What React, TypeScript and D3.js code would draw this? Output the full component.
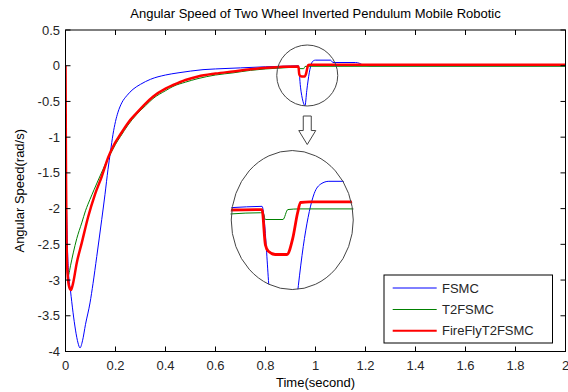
import React from "react";
import * as d3 from "d3";

// ---- data ----
const tFSMC = [0, 0.002, 0.006, 0.012, 0.02, 0.03, 0.04, 0.05, 0.058, 0.068, 0.08, 0.098, 0.11, 0.125, 0.145, 0.158, 0.17, 0.18, 0.19, 0.2, 0.21, 0.225, 0.245, 0.27, 0.3, 0.34, 0.4, 0.45, 0.5, 0.55, 0.6, 0.7, 0.8, 0.9, 0.9315, 0.94, 0.95, 0.958, 0.965, 0.975, 0.985, 0.992, 1.0, 1.06, 1.07, 1.16, 1.175, 1.19, 1.22, 2.0];
const vFSMC = [-0.75, -1.5, -2.3, -2.9, -3.15, -3.45, -3.7, -3.88, -3.95, -3.85, -3.62, -3.32, -3.05, -2.67, -2.15, -1.8, -1.45, -1.2, -0.96, -0.78, -0.65, -0.52, -0.42, -0.33, -0.26, -0.19, -0.13, -0.1, -0.075, -0.055, -0.045, -0.03, -0.015, -0.004, 0, -0.3, -0.5, -0.56, -0.35, -0.1, 0.04, 0.07, 0.078, 0.078, 0.045, 0.045, 0.035, 0.01, 0, 0];

const tT2FSMC = [0, 0.002, 0.005, 0.009, 0.013, 0.02, 0.031, 0.045, 0.065, 0.08, 0.098, 0.115, 0.131, 0.15, 0.17, 0.185, 0.2, 0.22, 0.25, 0.285, 0.32, 0.35, 0.4, 0.43, 0.48, 0.53, 0.6, 0.67, 0.74, 0.8, 0.87, 0.93, 0.9325, 0.935, 0.953, 0.958, 0.97, 2.0];
const vT2FSMC = [0, -1.8, -2.6, -2.95, -2.92, -2.8, -2.62, -2.42, -2.2, -2.03, -1.87, -1.73, -1.6, -1.45, -1.3, -1.2, -1.1, -0.99, -0.83, -0.68, -0.56, -0.46, -0.35, -0.29, -0.23, -0.18, -0.13, -0.1, -0.065, -0.045, -0.03, -0.02, -0.02, -0.041, -0.041, -0.01, -0.008, -0.007];

const tFireFly = [0, 0.002, 0.004, 0.008, 0.015, 0.022, 0.03, 0.045, 0.065, 0.091, 0.118, 0.145, 0.171, 0.195, 0.218, 0.25, 0.285, 0.32, 0.351, 0.4, 0.431, 0.48, 0.53, 0.6, 0.67, 0.74, 0.805, 0.87, 0.93, 0.9315, 0.935, 0.938, 0.945, 0.957, 0.963, 0.968, 0.971, 0.98, 2.0];
const vFireFly = [0, -1.5, -2.4, -2.9, -3.1, -3.14, -3.05, -2.76, -2.48, -2.11, -1.8, -1.55, -1.28, -1.1, -0.97, -0.8, -0.66, -0.53, -0.43, -0.32, -0.27, -0.2, -0.15, -0.11, -0.08, -0.05, -0.03, -0.015, -0.01, -0.01, -0.12, -0.14, -0.15, -0.15, -0.1, -0.02, 0.012, 0.014, 0.014];

const xTicks = [0, 0.2, 0.4, 0.6, 0.8, 1, 1.2, 1.4, 1.6, 1.8, 2];
const yTicks = [0.5, 0, -0.5, -1, -1.5, -2, -2.5, -3, -3.5, -4];
const seriesNames = ["FSMC", "T2FSMC", "FireFlyT2FSMC"];
const seriesColors = ["#0000ff", "#008000", "#ff0000"];
const seriesWidths = [1, 1, 2.5];

// annotation anchors (data coords)
const zoomCircleCenter = [0.967, -0.137];
const insetCenter = [0.907, -2.16];
const insetDomainX = [0.9, 1.025];
const insetDomainY = [-0.2, 0.1];

const W = 568, H = 392;
const M = { left: 65.5, right: 565.5, top: 30, bottom: 351.5 };
const FONT = "'Liberation Sans', Arial, sans-serif";

export default function App() {
  const x = d3.scaleLinear().domain([0, 2]).range([M.left, M.right]);
  const y = d3.scaleLinear().domain([-4, 0.5]).range([M.bottom, M.top]);

  const series = [
    { t: tFSMC, v: vFSMC },
    { t: tT2FSMC, v: vT2FSMC },
    { t: tFireFly, v: vFireFly },
  ];

  const mainLine = (t: number[], v: number[]) =>
    d3.line<number>().x((_, i) => x(t[i])).y((_, i) => y(v[i])).curve(d3.curveMonotoneX)(v) || "";

  const ccx = x(zoomCircleCenter[0]);
  const ccy = y(zoomCircleCenter[1]);
  const cr = 30.5;

  const ecx = x(insetCenter[0]);
  const ecy = y(insetCenter[1]);
  const erx = 61, ery = 69.5;

  const ix = d3.scaleLinear().domain(insetDomainX).range([ecx - erx, ecx + erx]);
  const iy = d3.scaleLinear().domain(insetDomainY).range([ecy + 50.5, ecy - 45.8]);
  const insetLine = (t: number[], v: number[]) =>
    d3.line<number>().x((_, i) => ix(t[i])).y((_, i) => iy(v[i])).curve(d3.curveMonotoneX)(v) || "";

  // arrow
  const ax = ccx;
  const aTop = ccy + cr + 10;
  const aTip = ecy - ery - 6;
  const aNeck = aTip - 14;
  const arrowPath = `M${ax - 4},${aTop} L${ax + 4},${aTop} L${ax + 4},${aNeck} L${ax + 8.5},${aNeck} L${ax},${aTip} L${ax - 8.5},${aNeck} L${ax - 4},${aNeck} Z`;

  const tickLen = 5;
  const txtColor = "#262626";

  const legX = 384, legY = 275, legW = 168.5, legH = 68;
  const rowYs = [288, 309.5, 330.7];

  return (
    <svg width={W} height={H} style={{ position: "absolute", left: 0, top: 0, background: "#fff" }} fontFamily={FONT}>
      <rect x={0} y={0} width={W} height={H} fill="#fff" />
      <defs>
        <clipPath id="plotClip">
          <rect x={M.left} y={M.top} width={M.right - M.left} height={M.bottom - M.top} />
        </clipPath>
        <clipPath id="insetClip">
          <ellipse cx={ecx} cy={ecy} rx={erx + 1} ry={ery} />
        </clipPath>
      </defs>

      {/* title */}
      <text x={(M.left + M.right) / 2} y={18} textAnchor="middle" fontSize={13} fill="#000">
        Angular Speed of Two Wheel Inverted Pendulum Mobile Robotic
      </text>

      {/* main lines */}
      <g clipPath="url(#plotClip)">
        {series.map((s, i) => (
          <path key={i} d={mainLine(s.t, s.v)} fill="none" stroke={seriesColors[i]} strokeWidth={seriesWidths[i]} strokeLinejoin="round" />
        ))}
      </g>

      {/* axes box */}
      <rect x={M.left} y={M.top} width={M.right - M.left} height={M.bottom - M.top} fill="none" stroke="#000" strokeWidth={1} />
      {xTicks.map((t, i) => (
        <g key={"xt" + i}>
          <line x1={x(t)} x2={x(t)} y1={M.bottom} y2={M.bottom - tickLen} stroke="#000" />
          <line x1={x(t)} x2={x(t)} y1={M.top} y2={M.top + tickLen} stroke="#000" />
          <text x={x(t)} y={370} textAnchor="middle" fontSize={13} fill={txtColor}>{String(t)}</text>
        </g>
      ))}
      {yTicks.map((v, i) => (
        <g key={"yt" + i}>
          <line x1={M.left} x2={M.left + tickLen} y1={y(v)} y2={y(v)} stroke="#000" />
          <line x1={M.right} x2={M.right - tickLen} y1={y(v)} y2={y(v)} stroke="#000" />
          <text x={60} y={y(v) + 4.5} textAnchor="end" fontSize={13} fill={txtColor}>{String(v)}</text>
        </g>
      ))}

      {/* axis labels */}
      <text x={(M.left + M.right) / 2} y={387} textAnchor="middle" fontSize={13} fill="#000">Time(second)</text>
      <text transform={`translate(24,${(M.top + M.bottom) / 2}) rotate(-90)`} textAnchor="middle" fontSize={13} fill="#000">
        Angular Speed(rad/s)
      </text>

      {/* zoom annotation */}
      <circle cx={ccx} cy={ccy} r={cr} fill="none" stroke="#444" strokeWidth={1} />
      <path d={arrowPath} fill="#fff" stroke="#444" strokeWidth={1} />
      <g clipPath="url(#insetClip)">
        {series.map((s, i) => (
          <path key={"in" + i} d={insetLine(s.t, s.v)} fill="none" stroke={seriesColors[i]} strokeWidth={seriesWidths[i] === 1 ? 1 : 2.8} strokeLinejoin="round" />
        ))}
      </g>
      <ellipse cx={ecx} cy={ecy} rx={erx} ry={ery} fill="none" stroke="#444" strokeWidth={1} />

      {/* legend */}
      <rect x={legX} y={legY} width={legW} height={legH} fill="#fff" stroke="#000" strokeWidth={1} />
      {seriesNames.map((n, i) => (
        <g key={"lg" + i}>
          <line x1={392.7} x2={436.7} y1={rowYs[i]} y2={rowYs[i]} stroke={seriesColors[i]} strokeWidth={seriesWidths[i] === 1 ? 1 : 2} />
          <text x={442} y={rowYs[i] + 4.5} fontSize={13} fill={txtColor}>{n}</text>
        </g>
      ))}
    </svg>
  );
}
